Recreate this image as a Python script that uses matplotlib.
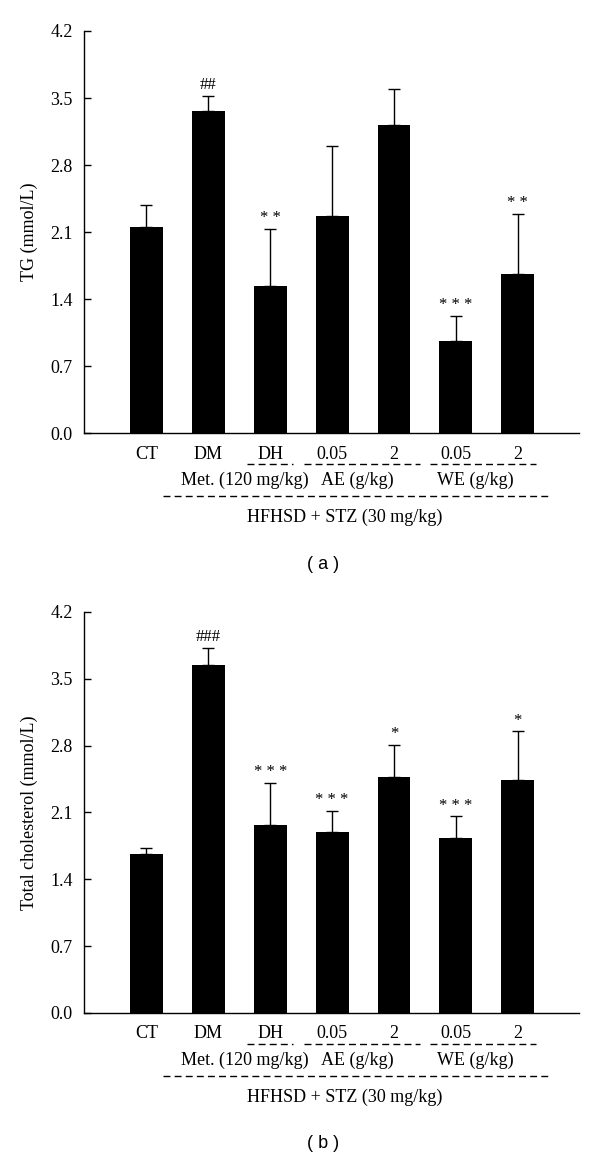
import matplotlib
matplotlib.use("Agg")
import matplotlib.pyplot as plt
from matplotlib.transforms import offset_copy

plt.rcParams['font.family'] = ['Liberation Serif', 'DejaVu Serif']

# Data
groups = ['CT', 'DM', 'DH', '0.05', '2', '0.05', '2']
tg_mean = [2.15, 3.36, 1.54, 2.27, 3.22, 0.965, 1.665]
tg_err = [0.23, 0.16, 0.59, 0.73, 0.37, 0.255, 0.625]
tg_marks = ['', '##', '**', '', '', '***', '**']
tc_mean = [1.67, 3.64, 1.97, 1.90, 2.47, 1.83, 2.44]
tc_err = [0.06, 0.18, 0.44, 0.22, 0.34, 0.23, 0.51]
tc_marks = ['', '###', '***', '***', '*', '***', '*']
yticks = [0.0, 0.7, 1.4, 2.1, 2.8, 3.5, 4.2]

FS = 13
fig = plt.figure(figsize=(6, 11.61), dpi=100)


def below(ax, px):
    # x in data units, y = px pixels below the x axis
    return offset_copy(ax.get_xaxis_transform(), fig=fig, y=-px, units='dots')


def hline(ax, x0, x1, px):
    ax.plot([x0, x1], [0, 0], color='black', lw=1, ls=(0, (5, 3)),
            transform=below(ax, px), clip_on=False)


def draw_panel(rect, means, errs, marks, ylabel, tag):
    ax = fig.add_axes(rect)
    x = list(range(len(means)))
    ax.bar(x, means, width=0.53, color='black')
    ax.errorbar(x, means, yerr=[[0] * len(errs), errs], fmt='none',
                ecolor='black', elinewidth=1, capsize=4, capthick=1)
    for xi, m, e, s in zip(x, means, errs, marks):
        if s:
            txt = ' '.join(s) if s[0] == '*' else s
            ax.annotate(txt, (xi, m + e), xytext=(0, 2), textcoords='offset points',
                        ha='center', va='bottom', fontsize=12)
    ax.set_xlim(-1.01, 6.99)
    ax.set_ylim(0, 4.2)
    ax.set_yticks(yticks)
    ax.set_yticklabels([f'{v:.1f}' for v in yticks])
    ax.tick_params(axis='y', direction='in', length=5, width=1, pad=8, labelsize=FS)
    ax.tick_params(axis='x', bottom=False, labelbottom=False)
    for sp in ['top', 'right']:
        ax.spines[sp].set_visible(False)
    ax.spines['left'].set_linewidth(1)
    ax.spines['bottom'].set_linewidth(1)
    ax.set_ylabel(ylabel, fontsize=FS)
    ax.yaxis.set_label_coords(-0.093, 0.5)

    for xi, g in zip(x, groups):
        ax.text(xi, 0, g, transform=below(ax, 21), ha='center', va='center', fontsize=FS)
    # dashed group lines
    hline(ax, 1.62, 2.37, 31)
    hline(ax, 2.55, 4.42, 31)
    hline(ax, 4.58, 6.3, 31)
    ax.text(1.59, 0, 'Met. (120 mg/kg)', transform=below(ax, 47), ha='center', va='center', fontsize=FS)
    ax.text(3.41, 0, 'AE (g/kg)', transform=below(ax, 47), ha='center', va='center', fontsize=FS)
    ax.text(5.31, 0, 'WE (g/kg)', transform=below(ax, 47), ha='center', va='center', fontsize=FS)
    hline(ax, 0.27, 6.52, 63)
    ax.text(3.2, 0, 'HFHSD + STZ (30 mg/kg)', transform=below(ax, 84), ha='center', va='center', fontsize=FS)
    ax.text(2.85, 0, tag, transform=below(ax, 131), ha='center', va='center',
            fontsize=FS, family=['Liberation Sans', 'DejaVu Sans'])
    return ax


draw_panel([0.14, 0.627, 0.825, 0.3463], tg_mean, tg_err, tg_marks, 'TG (mmol/L)', '( a )')
draw_panel([0.14, 0.1275, 0.825, 0.3454], tc_mean, tc_err, tc_marks, 'Total cholesterol (mmol/L)', '( b )')

fig.savefig('out.png', dpi=100)
